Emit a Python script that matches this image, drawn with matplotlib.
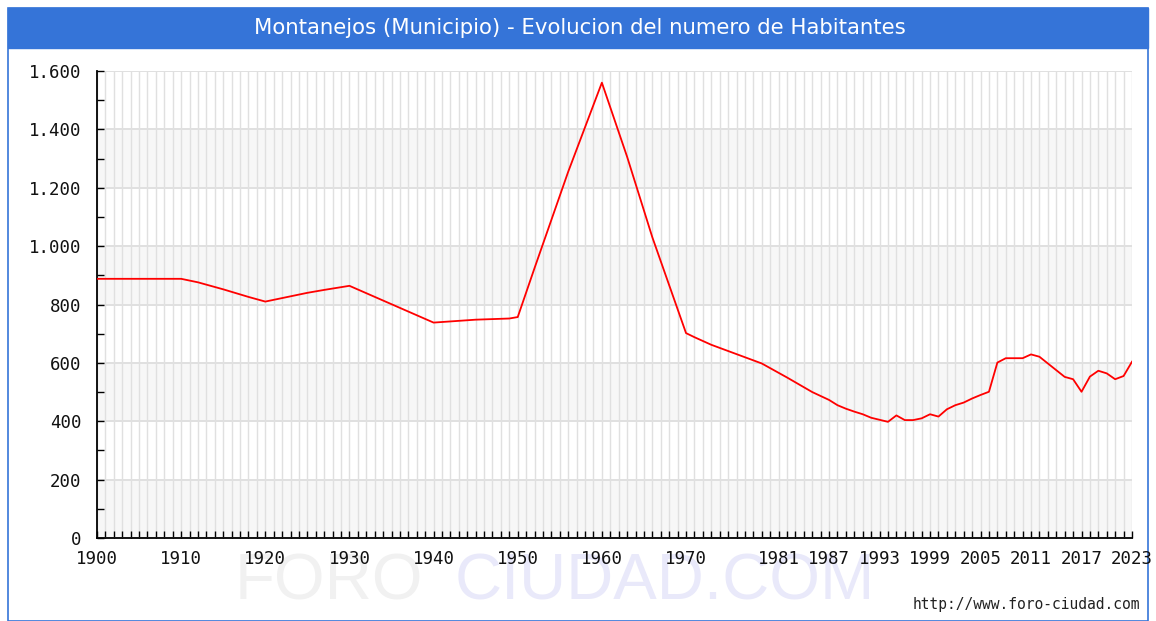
import matplotlib
matplotlib.use("Agg")
import matplotlib.pyplot as plt
from matplotlib.patches import Rectangle
from matplotlib.ticker import MultipleLocator, FixedLocator

# datos (habitantes por año)
years = [1900, 1910, 1912, 1915, 1918, 1920, 1922, 1925, 1927, 1930,
         1940, 1942, 1945, 1949, 1950, 1952, 1956, 1960, 1963, 1966,
         1970, 1971, 1973, 1976, 1979, 1982, 1985, 1987, 1988, 1989,
         1990, 1991, 1992, 1993, 1994, 1995, 1996, 1997, 1998, 1999,
         2000, 2001, 2002, 2003, 2004, 2005, 2006, 2007, 2008, 2009,
         2010, 2011, 2012, 2013, 2014, 2015, 2016, 2017, 2018, 2019,
         2020, 2021, 2022, 2023]
habitantes = [888, 888, 876, 852, 826, 810, 822, 840, 850, 864,
              738, 742, 748, 752, 757, 925, 1255, 1560, 1306, 1030,
              702, 688, 662, 630, 598, 550, 500, 473, 455, 443,
              433, 424, 412, 405, 398, 420, 404, 404, 410, 424,
              416, 441, 455, 464, 478, 490, 501, 601, 616, 616,
              616, 629, 621, 598, 575, 552, 544, 501, 553, 573,
              564, 544, 555, 604]

xtick_years = [1900, 1910, 1920, 1930, 1940, 1950, 1960, 1970,
               1981, 1987, 1993, 1999, 2005, 2011, 2017, 2023]
ytick_vals = [0, 200, 400, 600, 800, 1000, 1200, 1400, 1600]
ytick_labels = ["0", "200", "400", "600", "800", "1.000", "1.200", "1.400", "1.600"]

W, H = 1156, 621
fig = plt.figure(figsize=(W / 100, H / 100), dpi=100)
fig.patch.set_facecolor("white")

azul = "#3574d8"
# marco azul y barra de titulo
fig.patches.append(Rectangle((8 / W, 0.5 / H), 1140 / W, (H - 8.5) / H, transform=fig.transFigure,
                             fill=False, edgecolor=azul, linewidth=1.2, zorder=0))
fig.patches.append(Rectangle((8 / W, 1 - 48 / H), 1140 / W, 40 / H, transform=fig.transFigure,
                             facecolor=azul, edgecolor=azul, zorder=1))
fig.text(580 / W, 1 - 28 / H, "Montanejos (Municipio) - Evolucion del numero de Habitantes",
         color="white", fontsize=15.3, ha="center", va="center", family="DejaVu Sans")

# marca de agua (detras de todo)
fig.text(235 / W, 1 - 599 / H, "FORO", fontsize=47, color="#f1f1f1",
         family="Liberation Sans", ha="left", va="baseline", zorder=-5)
fig.text(455 / W, 1 - 599 / H, "CIUDAD.COM", fontsize=47, color="#e9e9fa",
         family="Liberation Sans", ha="left", va="baseline", zorder=-5)

ax = fig.add_axes([97 / W, 1 - 538 / H, (1132 - 97) / W, (538 - 71) / H])
ax.set_zorder(2)
ax.set_facecolor("none")
ax.set_xlim(1900, 2023)
ax.set_ylim(0, 1600)

# bandas grises alternas
for lo in [0, 400, 800, 1200]:
    ax.axhspan(lo, lo + 200, color="#f7f7f7", zorder=0, lw=0)

ax.xaxis.set_major_locator(FixedLocator(xtick_years))
ax.xaxis.set_minor_locator(MultipleLocator(1))
ax.set_xticks(xtick_years)
ax.set_xticklabels([str(y) for y in xtick_years])
ax.set_yticks(ytick_vals)
ax.set_yticklabels(ytick_labels)
ax.yaxis.set_minor_locator(MultipleLocator(100))

ax.grid(True, which="both", axis="x", color="#e0e0e0", linewidth=1.0, zorder=1)
ax.grid(True, which="major", axis="y", color="#e0e0e0", linewidth=1.4, zorder=1)
ax.set_axisbelow(True)

ax.plot(years, habitantes, color="#ff0000", linewidth=1.3, zorder=3)

for s in ["top", "right"]:
    ax.spines[s].set_visible(False)
for s in ["left", "bottom"]:
    ax.spines[s].set_linewidth(1.3)
    ax.spines[s].set_color("black")

ax.tick_params(axis="both", which="both", direction="in", length=5, width=1, color="black")
ax.tick_params(axis="x", which="major", pad=9)
ax.tick_params(axis="y", which="major", pad=11)
for lab in ax.get_xticklabels() + ax.get_yticklabels():
    lab.set_family("DejaVu Sans Mono")
    lab.set_fontsize(12.5)
    lab.set_color("#111111")

fig.text(1140 / W, 1 - 604 / H, "http://www.foro-ciudad.com", fontsize=10.5,
         family="DejaVu Sans Mono", color="#222222", ha="right", va="center")

fig.savefig("out.png", dpi=100, facecolor="white")
